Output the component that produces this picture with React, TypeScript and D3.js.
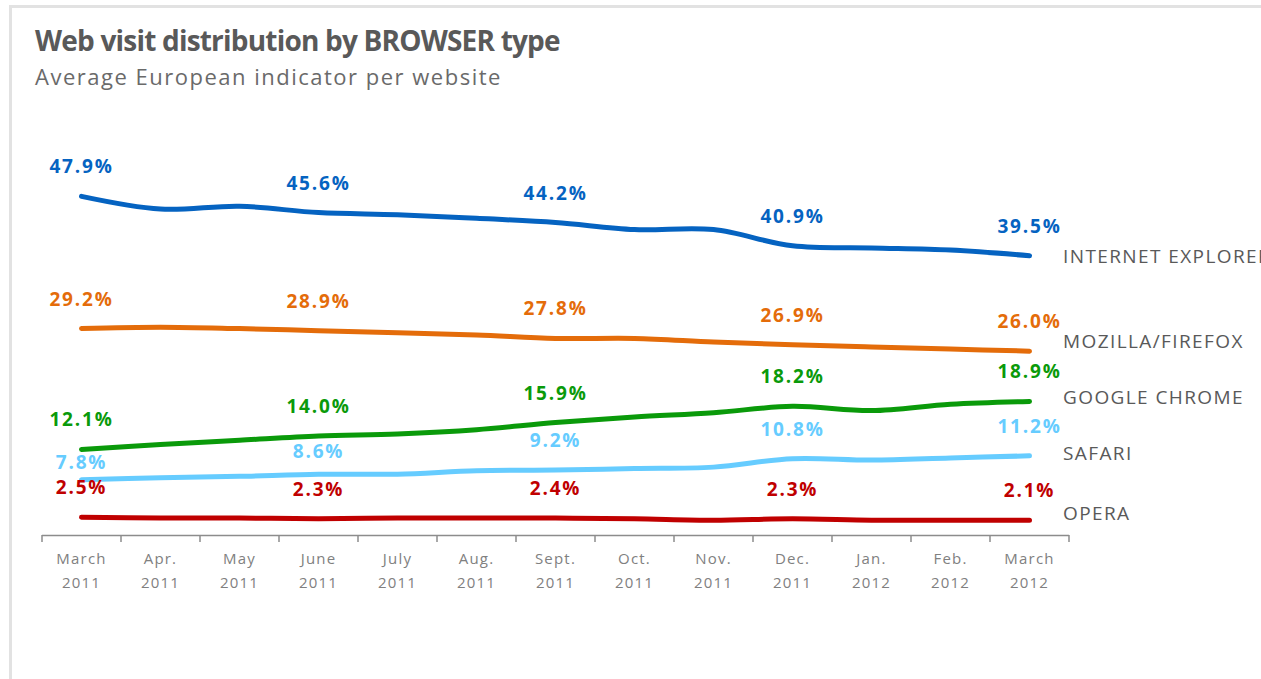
import React from "react";
import * as d3 from "d3";

const monthLabels = ["March", "Apr.", "May", "June", "July", "Aug.", "Sept.", "Oct.", "Nov.", "Dec.", "Jan.", "Feb.", "March"];
const yearLabels = ["2011", "2011", "2011", "2011", "2011", "2011", "2011", "2011", "2011", "2011", "2012", "2012", "2012"];

const seriesNames = ["INTERNET EXPLORER", "MOZILLA/FIREFOX", "GOOGLE CHROME", "SAFARI", "OPERA"];
const ieValues = [47.9, 46.1, 46.5, 45.6, 45.3, 44.8, 44.2, 43.2, 43.2, 40.9, 40.6, 40.3, 39.5];
const firefoxValues = [29.2, 29.4, 29.2, 28.9, 28.6, 28.3, 27.8, 27.8, 27.3, 26.9, 26.6, 26.3, 26.0];
const chromeValues = [12.1, 12.8, 13.4, 14.0, 14.3, 14.9, 15.9, 16.7, 17.3, 18.2, 17.6, 18.5, 18.9];
const safariValues = [7.8, 8.1, 8.3, 8.6, 8.6, 9.1, 9.2, 9.4, 9.6, 10.8, 10.6, 10.9, 11.2];
const operaValues = [2.5, 2.4, 2.4, 2.3, 2.4, 2.4, 2.4, 2.3, 2.1, 2.3, 2.1, 2.1, 2.1];
const labeledIndices = [0, 3, 6, 9, 12];

const W = 1261;
const H = 679;
const colors = ["#0563C1", "#E46C0A", "#0A9A0A", "#66CCFF", "#C00000"];
// vertical nudges (px) for the series names at the right and special value labels
const nameDy = [1, -10, -4, -2, -7];
const valueDy: Record<string, number> = { "3-0": 12, "3-3": 7 };

export default function App() {
  const allSeries = [ieValues, firefoxValues, chromeValues, safariValues, operaValues];
  const idx = d3.range(monthLabels.length);
  const x = d3.scaleBand<number>().domain(idx).range([42, 1069]).paddingInner(0).paddingOuter(0);
  const cx = (i: number) => (x(i) as number) + x.bandwidth() / 2;
  const y = d3.scaleLinear().domain([0, 50]).range([535, 181.5]);
  const line = d3
    .line<number>()
    .x((_, i) => cx(i))
    .y((v) => y(v))
    .curve(d3.curveCatmullRom.alpha(0.5));

  const tickXs = [...idx.map((i) => x(i) as number), 1069];
  const font = "'Open Sans', 'Segoe UI', sans-serif";

  return (
    <div style={{ position: "absolute", left: 0, top: 0, width: W, height: H, background: "#fff", overflow: "hidden" }}>
      <svg width={W} height={H} style={{ display: "block" }}>
        <rect x={0} y={0} width={W} height={H} fill="#fff" />
        <path d={`M10.5,${H} V6.5 H${W}`} fill="none" stroke="#e2e2e2" strokeWidth={3} />
        <text x={35} y={51} fontFamily={font} fontWeight={700} fontSize={28} letterSpacing={-0.8} fill="#595959">
          Web visit distribution by BROWSER type
        </text>
        <text x={35} y={85} fontFamily={font} fontSize={22} letterSpacing={1.5} fill="#6a6a6a">
          Average European indicator  per website
        </text>

        {/* x axis */}
        <g>
          <line x1={42} x2={1069} y1={535.5} y2={535.5} stroke="#8c8c8c" strokeWidth={1.5} />
          {tickXs.map((tx, k) => (
            <line key={k} x1={tx} x2={tx} y1={535} y2={542} stroke="#8c8c8c" strokeWidth={1.5} />
          ))}
          {idx.map((i) => (
            <g key={i} fontFamily={font} fontSize={15} fill="#808080" textAnchor="middle" letterSpacing={1.2}>
              <text x={cx(i)} y={564}>{monthLabels[i]}</text>
              <text x={cx(i)} y={588}>{yearLabels[i]}</text>
            </g>
          ))}
        </g>

        {/* lines */}
        {allSeries.map((vals, s) => (
          <path key={s} d={line(vals) || ""} fill="none" stroke={colors[s]} strokeWidth={5} strokeLinecap="round" strokeLinejoin="round" />
        ))}

        {/* value labels */}
        {allSeries.map((vals, s) =>
          labeledIndices.map((i) => (
            <text
              key={`${s}-${i}`}
              x={cx(i)}
              y={y(vals[i]) - 23 + (valueDy[`${s}-${i}`] || 0)}
              textAnchor="middle"
              fontFamily={font}
              fontWeight={700}
              fontSize={19}
              letterSpacing={1.8}
              fill={colors[s]}
            >
              {vals[i].toFixed(1)}%
            </text>
          ))
        )}

        {/* series names */}
        {allSeries.map((vals, s) => (
          <text
            key={`n${s}`}
            x={1063}
            y={y(vals[vals.length - 1]) + nameDy[s]}
            dy="0.35em"
            fontFamily={font}
            fontSize={19}
            letterSpacing={1.4}
            fill="#595959"
          >
            {seriesNames[s]}
          </text>
        ))}
      </svg>
    </div>
  );
}
